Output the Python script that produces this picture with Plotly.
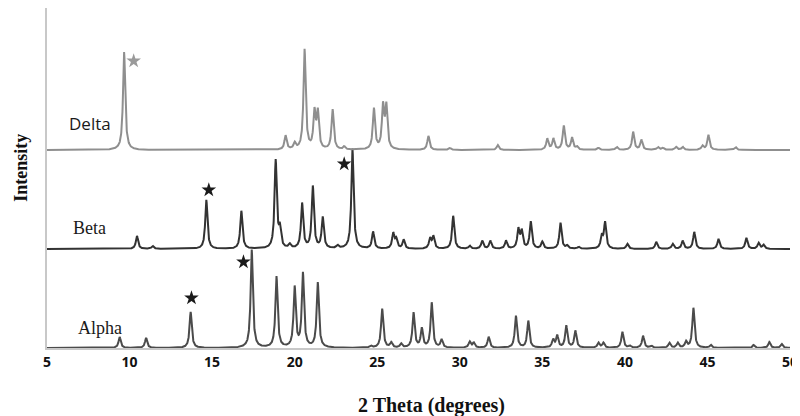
import numpy as np
import plotly.graph_objects as go

# Peak positions (2theta, degrees) and read heights (relative intensity) per pattern
alpha_pos = [9.4, 11.0, 13.7, 17.4, 18.9, 20.0, 20.5, 21.4, 24.6, 25.3, 25.85, 26.45, 27.2, 27.7, 28.3,
             28.9, 30.6, 30.85, 31.75, 33.4, 34.15, 35.65, 35.9, 36.45, 37.0, 38.4, 38.7, 39.85, 40.3,
             41.1, 41.6, 42.7, 43.2, 43.7, 44.15, 45.2, 47.8, 48.75, 49.5]
alpha_int = [11, 10, 36, 98, 71, 60, 74, 65, 2, 39, 5, 4, 35, 19, 45,
             8, 6, 5, 11, 32, 27, 8, 12, 22, 17, 5, 5, 16, 2,
             12, 2, 5, 5, 6, 40, 3, 3, 6, 4]

beta_pos = [10.45, 11.4, 14.65, 16.77, 18.85, 19.1, 19.7, 20.45, 21.1, 21.7, 22.6, 23.5, 24.75, 25.97,
            26.15, 26.6, 28.2, 28.4, 29.6, 30.6, 31.36, 31.85, 32.8, 33.55, 33.75, 34.3, 35.0, 36.1,
            36.5, 37.2, 38.6, 38.8, 40.15, 41.9, 42.9, 43.5, 44.2, 45.67, 47.36, 48.1, 48.4]
beta_int = [13, 3, 49, 38, 88, 18, 4, 45, 62, 31, 3, 100, 17, 15,
            9, 9, 10, 12, 33, 3, 8, 8, 8, 19, 17, 27, 7, 26,
            3, 2, 12, 26, 5, 7, 5, 8, 17, 10, 11, 6, 4]

delta_pos = [9.67, 19.45, 20.0, 20.6, 21.2, 21.4, 22.3, 23.0, 24.8, 25.35, 25.55, 28.1, 29.4, 32.3,
             35.3, 35.67, 36.3, 36.8, 37.1, 38.4, 39.5, 40.5, 41.0, 42.0, 42.3, 43.1, 43.5, 44.7,
             45.06, 46.7]
delta_int = [98, 14, 6, 100, 36, 36, 40, 3, 41, 42, 42, 14, 2, 5,
             11, 11, 24, 12, 3, 2, 3, 18, 10, 3, 2, 3, 3, 4,
             15, 3]

series_names = ["Alpha", "Beta", "Delta"]
series_offsets = [0, 99, 198]
series_colors = ["#4b4b4b", "#333333", "#8f8f8f"]

# starred peaks (x, y above baseline of own pattern, series index)
star_x = [13.75, 16.9, 14.8, 23.0, 10.25]
star_y = [50, 86, 59, 85, 89]
star_series = [0, 0, 1, 1, 2]

x_ticks = [5, 10, 15, 20, 25, 30, 35, 40, 45, 50]

x = np.arange(5.0, 50.0001, 0.01)
hw = 0.08


def profile(pos, ints):
    y = np.zeros_like(x)
    for p, h in zip(pos, ints):
        y += h / (1.0 + ((x - p) / hw) ** 2)
    return y


fig = go.Figure()
for name, pos, ints, off, col in zip(series_names, [alpha_pos, beta_pos, delta_pos],
                                     [alpha_int, beta_int, delta_int], series_offsets, series_colors):
    fig.add_trace(go.Scatter(x=x, y=profile(pos, ints) + off, mode="lines",
                             line=dict(color=col, width=2), name=name, showlegend=False,
                             hoverinfo="skip", cliponaxis=True))

sx = star_x
sy = [v + series_offsets[s] for v, s in zip(star_y, star_series)]
scol = ["#1a1a1a" if s < 2 else "#9a9a9a" for s in star_series]
fig.add_trace(go.Scatter(x=sx, y=sy, mode="markers",
                         marker=dict(symbol="star", size=11, color=scol, line=dict(width=0)),
                         showlegend=False, hoverinfo="skip"))

label_x = [8.2, 7.6, 7.6]
label_y = [20, 120, 225]
label_fonts = ["Liberation Serif", "Liberation Serif", "Open Sans"]
label_sizes = [18, 18, 17]
for name, lx, ly, lf, ls in zip(series_names, label_x, label_y, label_fonts, label_sizes):
    fig.add_annotation(x=lx, y=ly, text=name, showarrow=False, xanchor="center", yanchor="middle",
                       font=dict(family=lf, size=ls, color="#1a1a1a"))

fig.add_annotation(xref="paper", yref="paper", x=0.518, y=-0.168, yanchor="middle", xanchor="center",
                   text="<b>2 Theta (degrees)</b>", showarrow=False,
                   font=dict(family="Liberation Serif", size=20, color="#111111"))
fig.add_annotation(xref="paper", yref="paper", x=-0.035, y=0.53, xanchor="center", yanchor="middle",
                   text="<b>Intensity</b>", showarrow=False, textangle=-90,
                   font=dict(family="Liberation Serif", size=18, color="#111111"))

fig.update_layout(
    width=792, height=408,
    margin=dict(l=39, r=10, t=0, b=68),
    paper_bgcolor="white", plot_bgcolor="white",
    xaxis=dict(range=[5, 50], tickvals=x_ticks, ticktext=[str(t) for t in x_ticks], automargin=False,
               showgrid=False, zeroline=False, showline=True, linecolor="#c8c8c8", linewidth=2,
               ticks="", ticklen=0,
               tickfont=dict(family="Open Sans", size=14, color="#111111", weight="bold")),
    yaxis=dict(range=[0, 340], showticklabels=False, showgrid=False, zeroline=False, automargin=False,
               showline=True, linecolor="#c8c8c8", linewidth=2, ticks=""),
)

fig.write_html("out.html")
